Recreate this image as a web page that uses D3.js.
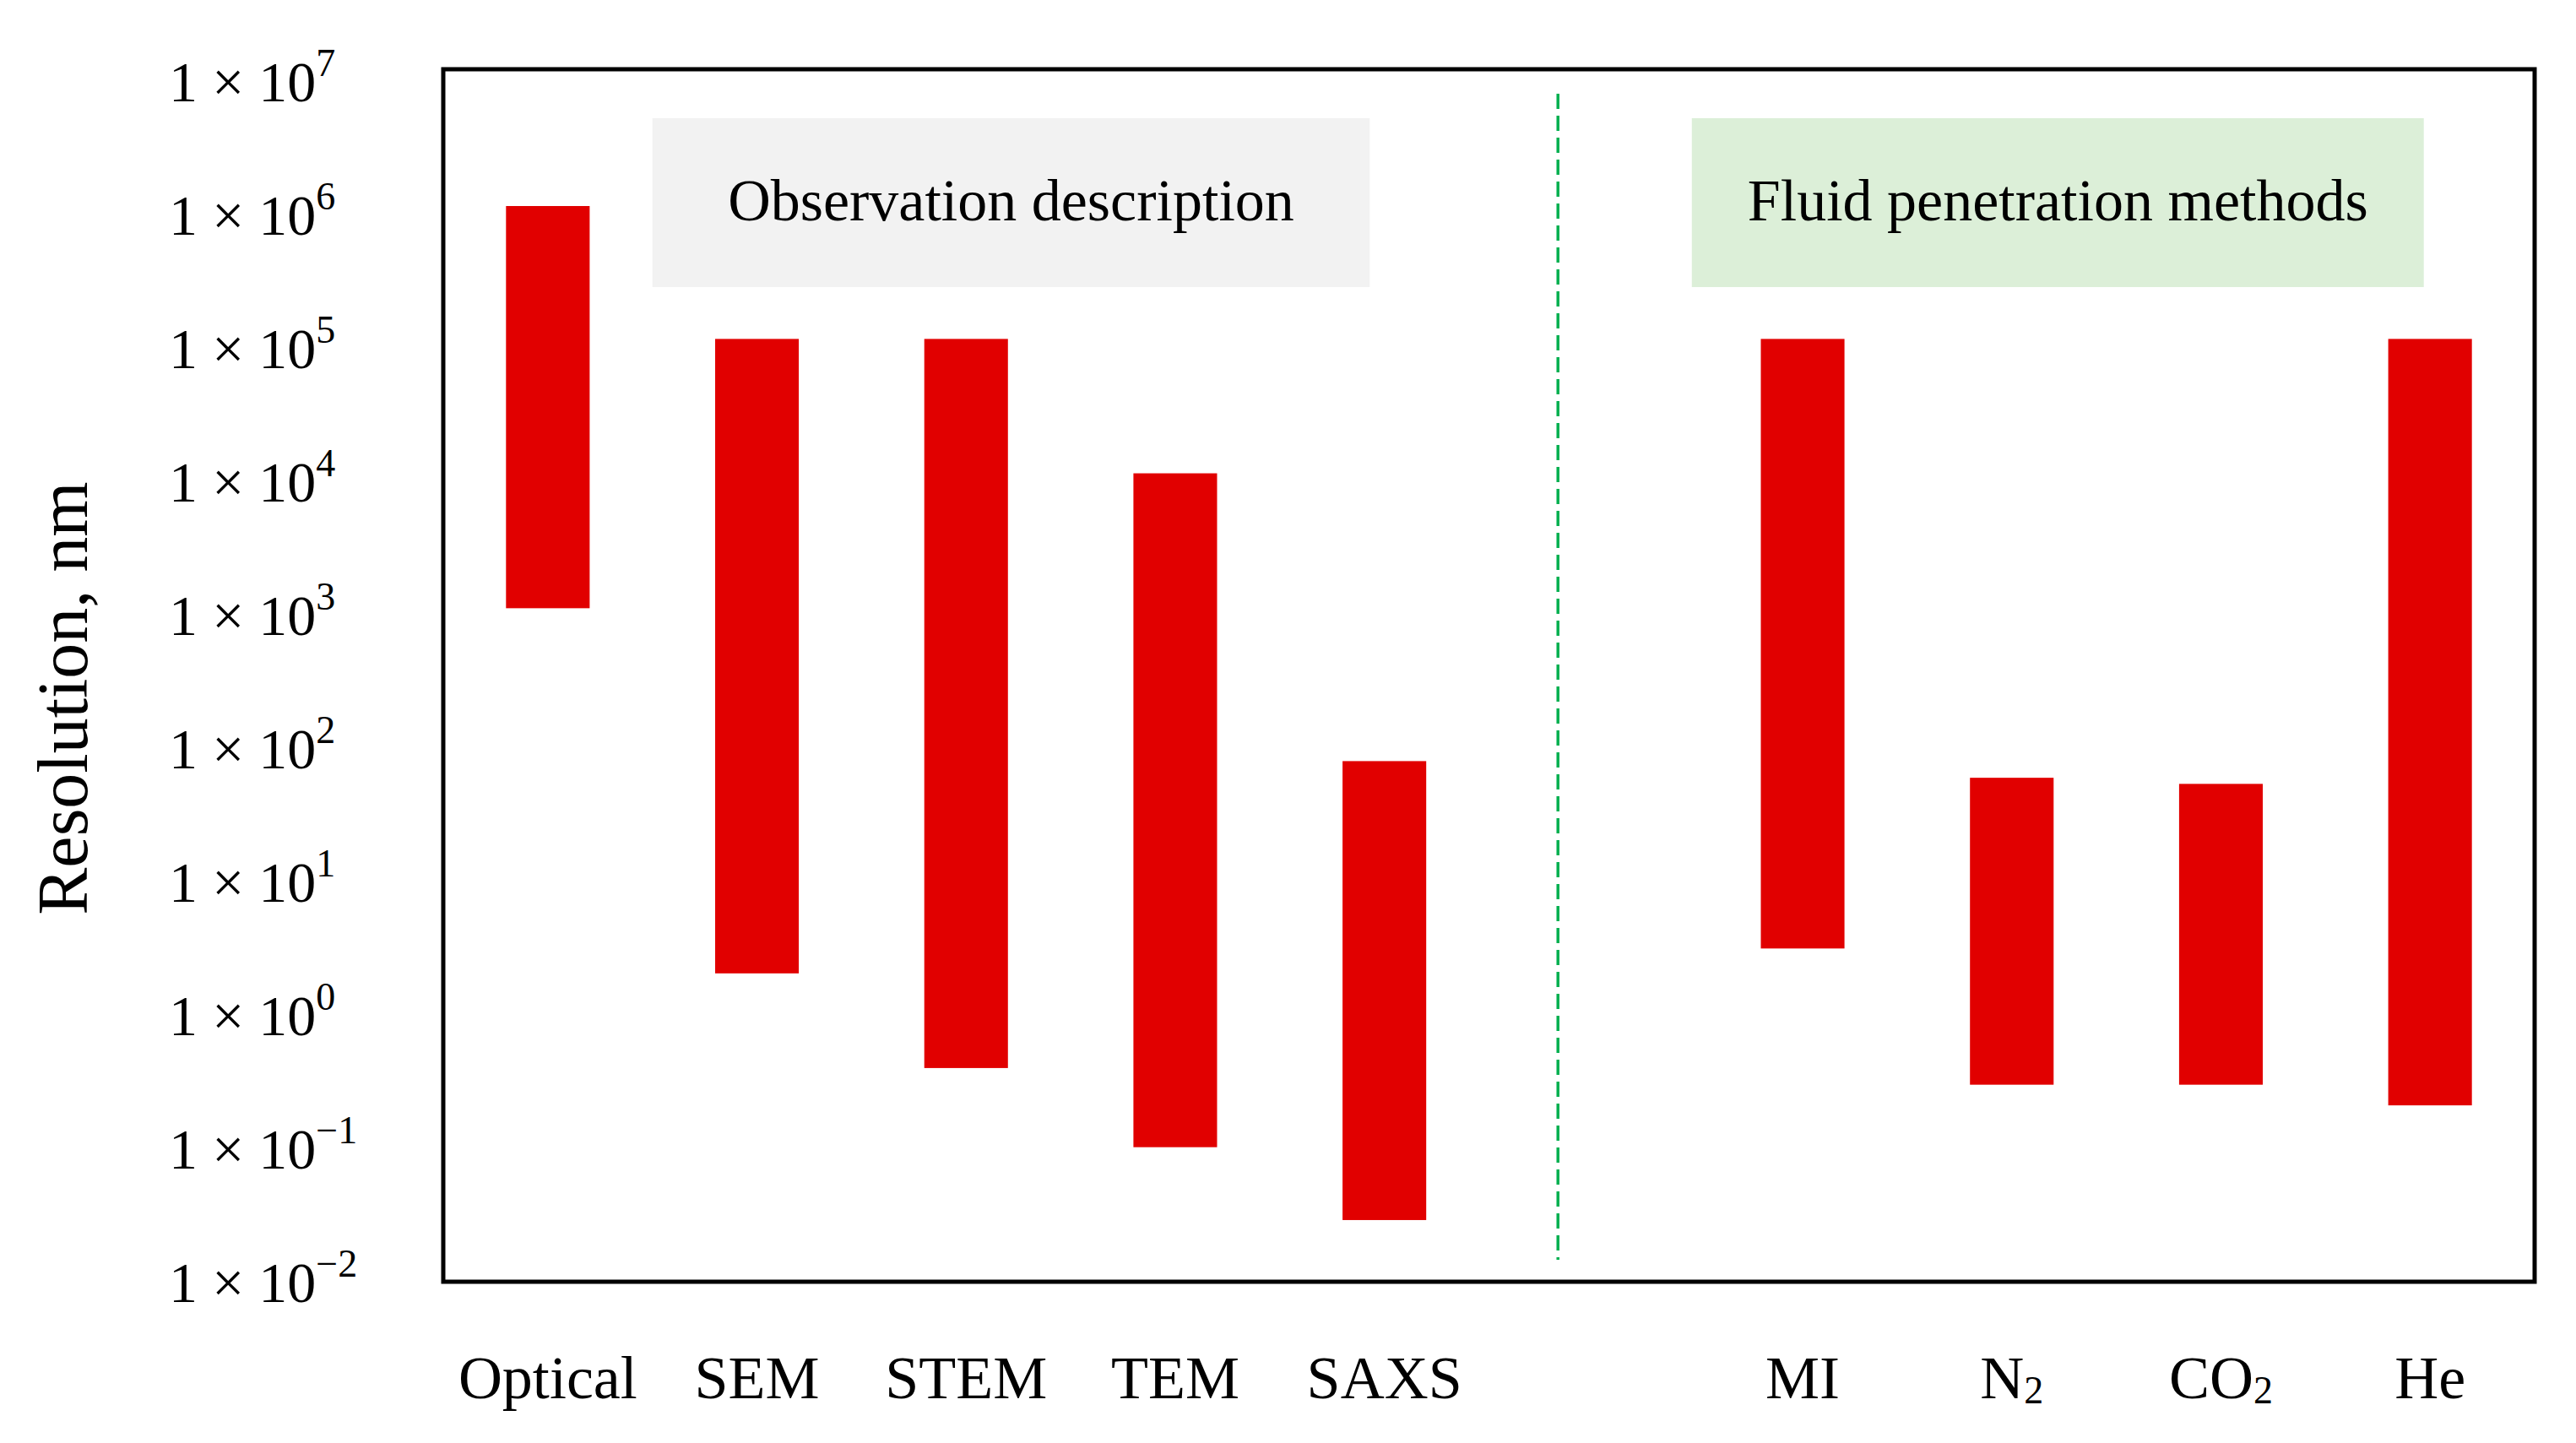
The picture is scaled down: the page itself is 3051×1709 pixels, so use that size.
<!DOCTYPE html>
<html>
<head>
	<meta charset="UTF-8">
	<title>Resolution ranges</title>
	<script src="https://cdn.jsdelivr.net/npm/d3@7"></script>
	<style>
		body {
			padding: 0;
			margin: 0;
			background: #ffffff;
		}
		text {
			font-family: "Liberation Serif", "DejaVu Serif", serif;
			fill: #000000;
		}
	</style>
</head>
<body>
	<script>
		// slot index along x (slot 5 is left empty as a gap between the two groups)
		var categories = ["Optical", "SEM", "STEM", "TEM", "SAXS", "MI", "N2", "CO2", "He"];
		var slots = [0, 1, 2, 3, 4, 6, 7, 8, 9];
		// resolution range in nm
		var lowValues = [1.12e3, 2.05, 0.40, 0.102, 0.029, 3.15, 0.30, 0.30, 0.21];
		var highValues = [1.16e6, 1.17e5, 1.17e5, 1.15e4, 80, 1.17e5, 60, 54, 1.17e5];
		var tickExponents = [7, 6, 5, 4, 3, 2, 1, 0, -1, -2];
		var groupLabels = ["Observation description", "Fluid penetration methods"];
		var groupStart = [0.5, 5.47];
		var groupEnd = [3.93, 8.97];
		var groupFill = ["#f2f2f2", "#dcefd8"];
		var dividerSlot = 4.83;

		// note: "top" is a read-only window property, so use other names
		var w = 3051,
			h = 1709,
			plotLeft = 525,
			plotRight = 3002,
			plotTop = 82,
			plotBottom = 1518;

		var svg = d3.select("body").append("svg")
			.attr("width", w)
			.attr("height", h);

		var x = d3.scaleLinear().domain([-0.5, 9.5]).range([plotLeft, plotRight]);
		var y = d3.scaleLog().domain([1e-2, Math.pow(10, 7.09)]).range([plotBottom, plotTop]);
		var barW = x(0.2) - x(-0.2);

		// group boxes
		groupLabels.forEach(function (lbl, i) {
			svg.append("rect")
				.attr("x", x(groupStart[i]))
				.attr("y", 140)
				.attr("width", x(groupEnd[i]) - x(groupStart[i]))
				.attr("height", 200)
				.attr("fill", groupFill[i]);
			svg.append("text")
				.attr("x", (x(groupStart[i]) + x(groupEnd[i])) / 2)
				.attr("y", 238)
				.attr("dy", "0.33em")
				.attr("text-anchor", "middle")
				.attr("font-size", 70)
				.text(lbl);
		});

		// dashed divider
		svg.append("line")
			.attr("x1", x(dividerSlot)).attr("x2", x(dividerSlot))
			.attr("y1", plotTop + 29).attr("y2", plotBottom - 26)
			.attr("stroke", "#00b050")
			.attr("stroke-width", 3.5)
			.attr("stroke-dasharray", "18,8");

		// bars
		svg.selectAll("rect.bar")
			.data(categories)
			.enter().append("rect")
			.attr("class", "bar")
			.attr("x", function (d, i) { return x(slots[i]) - barW / 2; })
			.attr("y", function (d, i) { return y(highValues[i]); })
			.attr("width", barW)
			.attr("height", function (d, i) { return y(lowValues[i]) - y(highValues[i]); })
			.attr("fill", "#e10000");

		// frame
		svg.append("rect")
			.attr("x", plotLeft).attr("y", plotTop)
			.attr("width", plotRight - plotLeft).attr("height", plotBottom - plotTop)
			.attr("fill", "none")
			.attr("stroke", "#000")
			.attr("stroke-width", 5);

		// y axis, labels written as 1 x 10^n
		var yAxis = d3.axisLeft(y)
			.tickValues(tickExponents.map(function (e) { return Math.pow(10, e); }))
			.tickSize(0)
			.tickFormat("");
		var gy = svg.append("g")
			.attr("transform", "translate(" + plotLeft + ",0)")
			.call(yAxis);
		gy.select(".domain").remove();
		gy.selectAll(".tick").each(function (d) {
			var e = Math.round(Math.log10(d));
			var t = d3.select(this).select("text")
				.attr("x", 200 - plotLeft)
				.attr("dy", "0.34em")
				.attr("text-anchor", "start")
				.attr("font-size", 68)
				.attr("font-family", "Liberation Serif, serif")
				.attr("fill", "#000");
			t.append("tspan").text("1 \u00d7 10");
			t.append("tspan")
				.attr("font-size", 46)
				.attr("dy", "-0.64em")
				.text(e < 0 ? "\u2212" + (-e) : String(e));
		});

		// category labels with subscript digits
		svg.selectAll("text.cat")
			.data(categories)
			.enter().append("text")
			.attr("class", "cat")
			.attr("x", function (d, i) { return x(slots[i]); })
			.attr("y", 1656)
			.attr("text-anchor", "middle")
			.attr("font-size", 72)
			.each(function (d) {
				var t = d3.select(this);
				var m = d.match(/^([A-Za-z]+)(\d*)$/);
				t.append("tspan").text(m[1]);
				if (m[2]) {
					t.append("tspan")
						.attr("font-size", 46)
						.attr("dy", "0.12em")
						.text(m[2]);
				}
			});

		// y axis title
		svg.append("text")
			.attr("transform", "translate(78," + 827 + ") rotate(-90)")
			.attr("text-anchor", "middle")
			.attr("dy", "0.3em")
			.attr("font-size", 84)
			.text("Resolution, nm");
	</script>
</body>
</html>
